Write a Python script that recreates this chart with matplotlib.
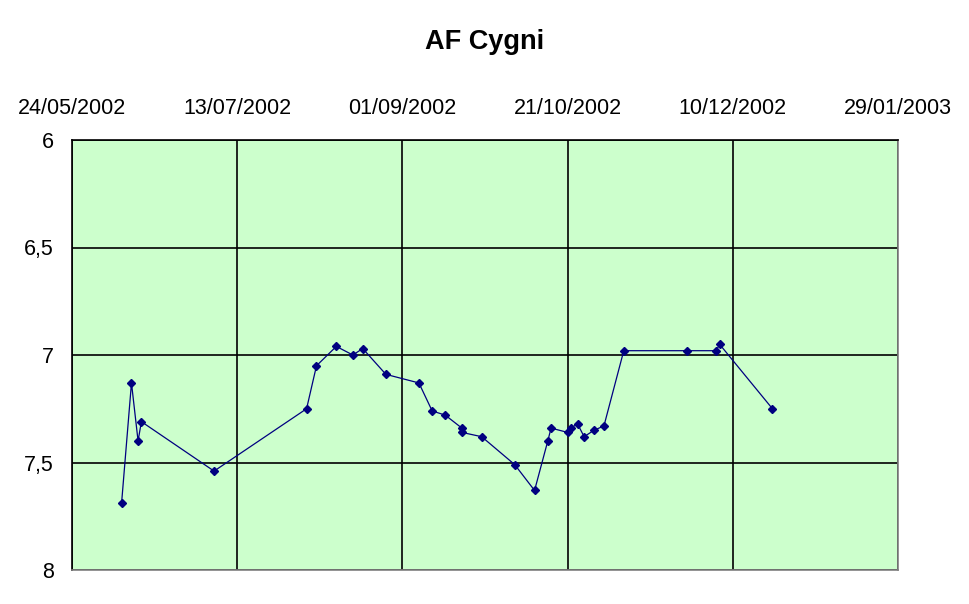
import matplotlib
matplotlib.use("Agg")
import matplotlib.pyplot as plt
import matplotlib.dates as mdates
import pandas as pd

dates = ["2002-06-08", "2002-06-11", "2002-06-13", "2002-06-14", "2002-07-06",
         "2002-08-03", "2002-08-06", "2002-08-12", "2002-08-17", "2002-08-20",
         "2002-08-27", "2002-09-06", "2002-09-10", "2002-09-14", "2002-09-19",
         "2002-09-19", "2002-09-25", "2002-10-05", "2002-10-11", "2002-10-15",
         "2002-10-16", "2002-10-21", "2002-10-22", "2002-10-24", "2002-10-26",
         "2002-10-29", "2002-11-01", "2002-11-07", "2002-11-26", "2002-12-05",
         "2002-12-06", "2002-12-22"]
magnitudes = [7.69, 7.13, 7.40, 7.31, 7.54,
              7.25, 7.05, 6.96, 7.00, 6.97,
              7.09, 7.13, 7.26, 7.28, 7.34,
              7.36, 7.38, 7.51, 7.63, 7.40,
              7.34, 7.36, 7.34, 7.32, 7.38,
              7.35, 7.33, 6.98, 6.98, 6.98,
              6.95, 7.25]
tick_dates = ["2002-05-24", "2002-07-13", "2002-09-01", "2002-10-21", "2002-12-10", "2003-01-29"]
tick_labels = ["24/05/2002", "13/07/2002", "01/09/2002", "21/10/2002", "10/12/2002", "29/01/2003"]
y_ticks = [6, 6.5, 7, 7.5, 8]
y_labels = ["6", "6,5", "7", "7,5", "8"]
title = "AF Cygni"

plt.rcParams['font.family'] = ['Liberation Sans', 'DejaVu Sans']

fig = plt.figure(figsize=(9.7, 6.04), dpi=100)
ax = fig.add_axes([72/970, 34/604, (898-72)/970, (570-140)/604])
ax.set_facecolor("#CCFFCC")

x = mdates.date2num(pd.to_datetime(dates))
xt = mdates.date2num(pd.to_datetime(tick_dates))

ax.plot(x, magnitudes, color="#000080", linewidth=0.9, marker="D", markersize=4.2,
        markerfacecolor="#000080", markeredgecolor="#000080", zorder=3)

ax.set_xlim(xt[0], xt[-1])
ax.set_ylim(8, 6)
ax.set_xticks(xt)
ax.set_xticklabels(tick_labels)
ax.set_yticks(y_ticks)
ax.set_yticklabels(y_labels)
ax.xaxis.tick_top()
ax.tick_params(axis="x", length=0, pad=15, labelsize=15.5)
ax.tick_params(axis="y", length=0, pad=13, labelsize=15.5)
ax.grid(True, color="black", linewidth=1.2)
ax.set_axisbelow(True)
ax.spines["left"].set_color("black")
ax.spines["top"].set_color("black")
ax.spines["right"].set_color("#808080")
ax.spines["bottom"].set_color("#808080")
for s in ax.spines.values():
    s.set_linewidth(1.2)

fig.text(485/970, 1 - 42/604, title, ha="center", va="center", fontsize=19.5, fontweight="bold")

fig.savefig("out.png", dpi=100)
